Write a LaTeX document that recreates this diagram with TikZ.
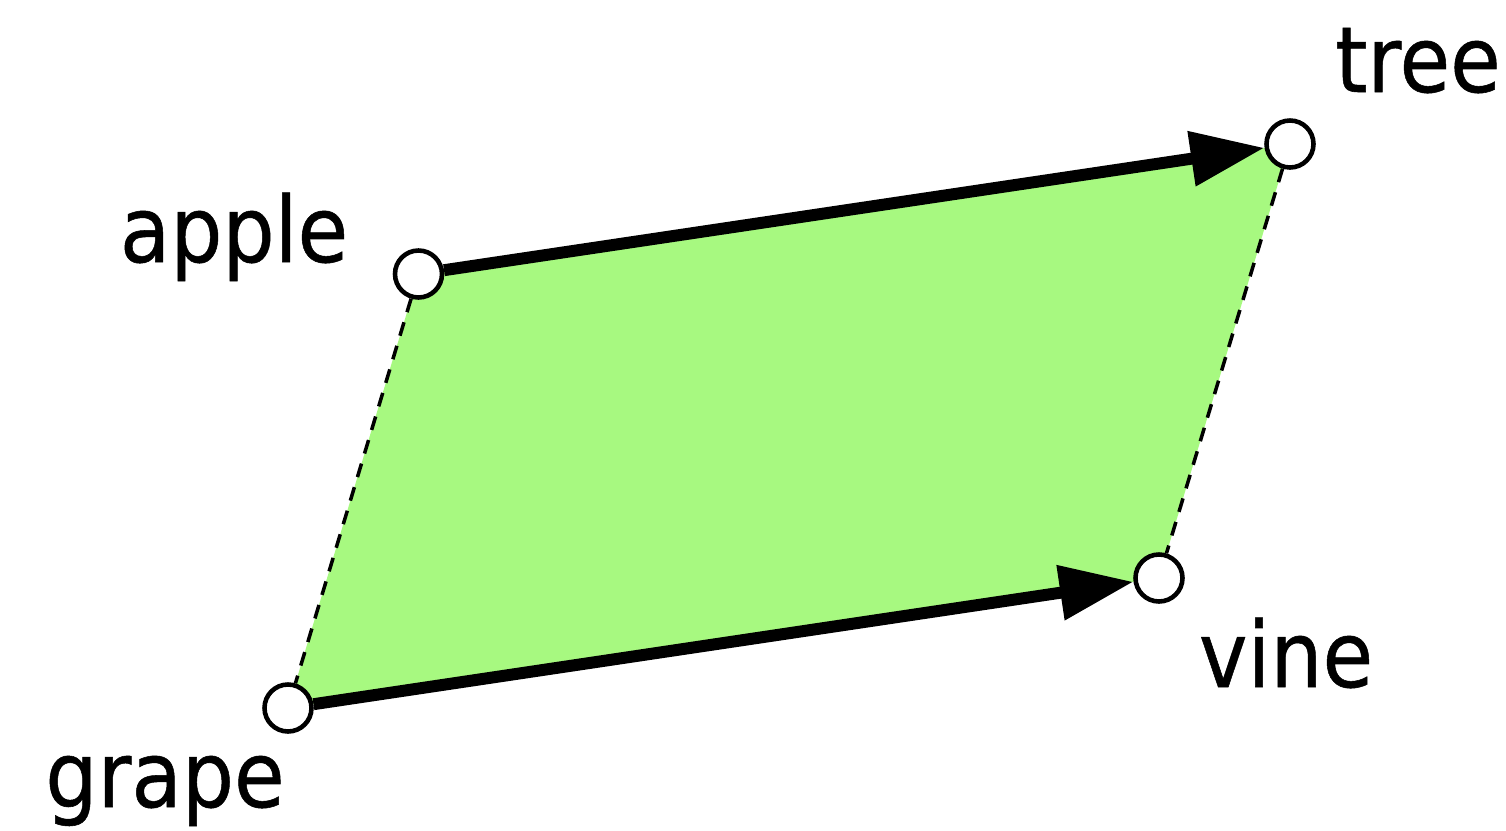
\documentclass[tikz,border=0pt]{standalone}
\usepackage{fontspec}
\usepackage{graphicx}
\setmainfont{DejaVu Sans}[FakeBold=0.6]
\usetikzlibrary{arrows.meta,backgrounds}
\definecolor{leaf}{RGB}{167,249,128}
\tikzset{
  pt/.style={circle,draw=black,fill=white,line width=1.3pt,inner sep=0pt,minimum size=0.47cm},
  lbl/.style={anchor=base,inner sep=0pt,font=\fontsize{26}{30}\selectfont},
  bigarrow/.style={line width=3.4pt,-{Triangle[length=21pt,width=15pt]}},
  dashline/.style={line width=1pt,dash pattern=on 4pt off 3pt}
}
\begin{document}
\begin{tikzpicture}
\useasboundingbox (0,0) rectangle (15.06,8.30);
\node[pt] (a) at (4.185,5.56) {};
\node[pt] (t) at (12.90,6.86) {};
\node[pt] (v) at (11.59,2.52) {};
\node[pt] (g) at (2.88,1.22) {};
\begin{scope}[on background layer]
\fill[leaf] (a.center) -- (t.center) -- (v.center) -- (g.center) -- cycle;
\end{scope}
\draw[dashline] (a) -- (g);
\draw[dashline] (t) -- (v);
\draw[bigarrow] (a) -- (t);
\draw[bigarrow] (g) -- (v);
\node[lbl] (la) at (2.34,5.68) {\scalebox{0.9}[1]{apple}};
\node[lbl] (lt) at (14.18,7.38) {\scalebox{0.9}[1]{tree}};
\node[lbl] (lv) at (12.86,1.43) {\scalebox{0.9}[1]{vine}};
\node[lbl] (lg) at (1.65,0.23) {\scalebox{0.9}[1]{grape}};
\end{tikzpicture}
\end{document}
